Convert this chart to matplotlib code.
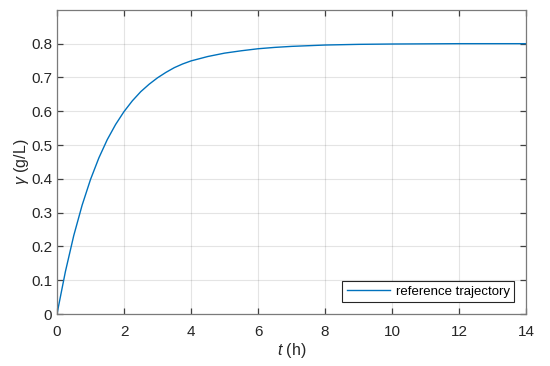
import numpy as np
import matplotlib.pyplot as plt

# values
t = [0, 0.25, 0.5, 0.75, 1.0, 1.25, 1.5, 1.75, 2.0, 2.25, 2.5, 2.75, 3.0,
     3.25, 3.5, 3.75, 4.0, 4.5, 5.0, 5.5, 6.0, 6.5, 7.0, 7.5, 8.0, 9.0, 10.0,
     11.0, 12.0, 13.0, 14.0]
gamma = [0, 0.125, 0.232, 0.322, 0.398, 0.462, 0.516, 0.561, 0.599, 0.631,
         0.658, 0.680, 0.699, 0.715, 0.729, 0.740, 0.749, 0.762, 0.772, 0.779,
         0.785, 0.789, 0.792, 0.794, 0.796, 0.798, 0.799, 0.7995, 0.800, 0.800,
         0.800]

xticks = [0, 2, 4, 6, 8, 10, 12, 14]
yticks = [0, 0.1, 0.2, 0.3, 0.4, 0.5, 0.6, 0.7, 0.8]

plt.rcParams['font.family'] = ['Liberation Sans', 'DejaVu Sans']
plt.rcParams['mathtext.fontset'] = 'custom'
plt.rcParams['mathtext.it'] = 'Liberation Sans:italic'

fig = plt.figure(figsize=(5.5, 3.66), dpi=100)
ax = fig.add_axes([0.1036, 0.142, 0.853, 0.831])

ax.plot(t, gamma, color='#0072BD', lw=1.0, label='reference trajectory')

ax.set_xlim(0, 14)
ax.set_ylim(0, 0.9)
ax.set_xticks(xticks)
ax.set_xticklabels([str(v) for v in xticks])
ax.set_yticks(yticks)
ax.set_yticklabels(['0' if v == 0 else f'{v:.1f}' for v in yticks])
ax.grid(True, color='#262626', alpha=0.12, lw=0.8)

for s in ax.spines.values():
    s.set_color('#7a7a7a')
    s.set_linewidth(0.9)
ax.tick_params(direction='in', length=4, width=0.9, color='#404040',
               labelsize=11, labelcolor='#262626', top=True, right=True)
ax.tick_params(axis='x', pad=8)

ax.set_xlabel(r'$t$ (h)', fontsize=11.5, color='#262626', labelpad=1)
ax.set_ylabel(r'$\gamma$ (g/L)', fontsize=11.5, color='#262626', labelpad=0)

leg = ax.legend(loc='lower right', fontsize=9.5, fancybox=False, framealpha=1,
                edgecolor='#262626', handlelength=3.3, borderaxespad=0.9,
                borderpad=0.35, handletextpad=0.4)
leg.get_frame().set_linewidth(0.8)

fig.savefig('out.png', dpi=100)
